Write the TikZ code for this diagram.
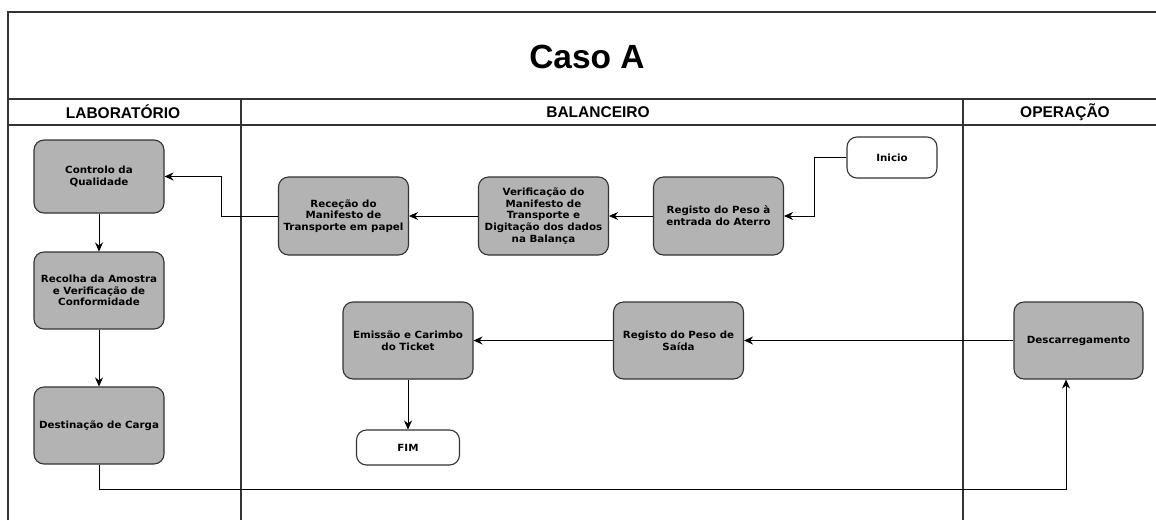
\documentclass[tikz,border=0pt]{standalone}
\usepackage{fontspec}
\setmainfont{Liberation Sans}
\newfontfamily\boxfont{DejaVu Sans}[FakeStretch=1.04]
\usetikzlibrary{arrows.meta}
\definecolor{boxgray}{HTML}{B3B3B3}
\definecolor{edge}{HTML}{333333}
\begin{document}
\begin{tikzpicture}[x=1pt,y=-1pt,
  lane/.style={draw=edge,line width=1.3pt},
  task/.style={draw=edge,line width=1.1pt,fill=boxgray,rounded corners=10pt,
    minimum width=130pt,minimum height=78pt,align=center,inner sep=1pt,
    font=\boxfont\bfseries\fontsize{9.9}{11.8}\selectfont},
  term/.style={task,fill=white},
  lanehead/.style={font=\bfseries\fontsize{15.5}{17}\selectfont},
  arr/.style={draw=black,line width=0.9pt,-{Stealth[length=9pt,width=8pt]}}]
\useasboundingbox (0,0) rectangle (1156,520);
\fill[white] (0,0) rectangle (1156,520);

% swimlane frame
\draw[lane] (8,520) -- (8,12) -- (1156,12);
\draw[lane] (8,99) -- (1156,99);
\draw[lane] (8,125) -- (1156,125);
\draw[lane] (241,99) -- (241,520);
\draw[lane] (963,99) -- (963,520);

\node[font=\bfseries\fontsize{33.5}{36}\selectfont] (title) at (587,57) {Caso A};
\node[lanehead] (hlab) at (123,112) {LABORATÓRIO};
\node[lanehead] (hbal) at (598,112) {BALANCEIRO};
\node[lanehead] (hop)  at (1065,112) {OPERAÇÃO};

% laboratory lane
\node[task,minimum height=73pt] (ctrl) at (99,176.5) {Controlo da\\Qualidade};
\node[task,minimum height=77pt] (recol) at (99,290.5) {Recolha da Amostra\\e Verificação de\\Conformidade};
\node[task,minimum height=77pt] (dest) at (99,425.5) {Destinação de Carga};

% weighbridge lane
\node[term,minimum width=90pt,minimum height=41pt] (ini) at (892,157.5) {Inicio};
\node[task] (reg1) at (718.5,216) {Registo do Peso à\\entrada do Aterro};
\node[task] (verif) at (543.5,216) {Verificação do\\Manifesto de\\Transporte e\\Digitação dos dados\\na Balança};
\node[task] (rece) at (343.5,216) {Receção do\\Manifesto de\\Transporte em papel};
\node[task,minimum height=77pt] (reg2) at (678.5,340.5) {Registo do Peso de\\Saída};
\node[task,minimum height=77pt] (emis) at (408,340.5) {Emissão e Carimbo\\do Ticket};
\node[term,minimum width=103pt,minimum height=35pt] (fim) at (408,447.5) {FIM};

% operation lane
\node[task,minimum width=129pt,minimum height=77pt] (desc) at (1078.5,340.5) {Descarregamento};

% routing points
\coordinate (k1) at (814,0);
\coordinate (k2) at (221,0);
\coordinate (turn) at (1066,489);

% connectors
\draw[arr] (ini.west) -| (k1 |- reg1.east) -- (reg1.east);
\draw[arr] (reg1) -- (verif);
\draw[arr] (verif) -- (rece);
\draw[arr] (rece.west) -| (k2 |- ctrl.east) -- (ctrl.east);
\draw[arr] (ctrl) -- (recol);
\draw[arr] (recol) -- (dest);
\draw[arr] (dest.south) |- (turn) -- (turn |- desc.south);
\draw[arr] (desc) -- (reg2);
\draw[arr] (reg2) -- (emis);
\draw[arr] (emis) -- (fim);
\end{tikzpicture}
\end{document}
